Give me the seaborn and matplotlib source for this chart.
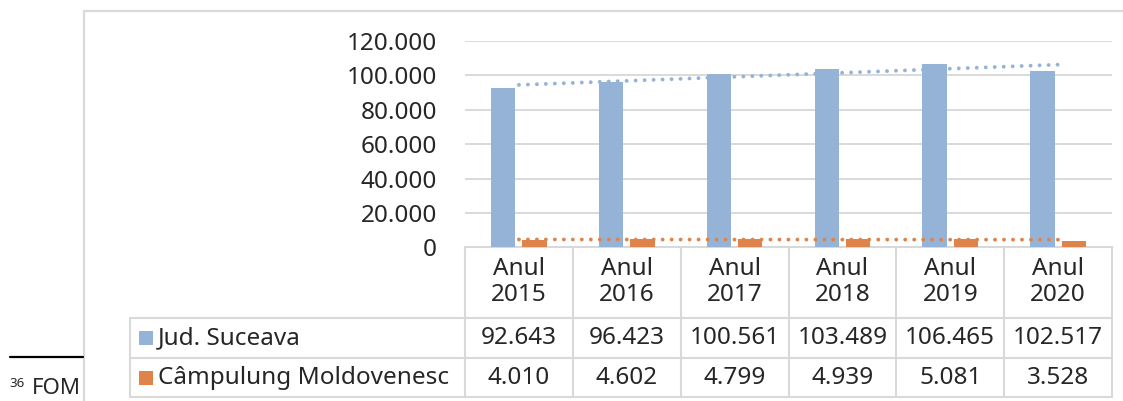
"""
Grafic: Jud. Suceava vs Câmpulung Moldovenesc (2015-2020)
Bare grupate + linii de tendinta + tabel de date sub axa.
"""

import numpy as np
import pandas as pd
import seaborn as sns
import matplotlib.pyplot as plt
from matplotlib.lines import Line2D
from matplotlib.patches import Rectangle
from matplotlib.transforms import blended_transform_factory

# -------------------------------
# Data
# -------------------------------
years = ["2015", "2016", "2017", "2018", "2019", "2020"]
series_names = ["Jud. Suceava", "Câmpulung Moldovenesc"]
suceava = [92643, 96423, 100561, 103489, 106465, 102517]
campulung = [4010, 4602, 4799, 4939, 5081, 3528]
y_ticks = [0, 20000, 40000, 60000, 80000, 100000, 120000]

colors = ["#95B3D7", "#E0834A"]
grid_col = "#D9D9D9"
FONT = 17.5

W, H = 1123, 401


def fx(px):
    return px / W


def fy(py):
    return 1 - py / H


def fmt(v):
    return f"{v:,}".replace(",", ".")


def main():
    sns.set_style("white")
    plt.rcParams["font.family"] = ["Noto Sans", "DejaVu Sans"]

    df = pd.DataFrame({
        "an": years * 2,
        "serie": [series_names[0]] * 6 + [series_names[1]] * 6,
        "val": suceava + campulung,
    })

    fig = plt.figure(figsize=(W / 100, H / 100), dpi=100)

    # chart area frame
    fig.add_artist(Line2D([fx(84), fx(84), fx(W + 5)], [fy(H + 5), fy(11), fy(11)],
                          color=grid_col, lw=1.6))

    # footnote on the page behind the chart
    fig.add_artist(Line2D([fx(10), fx(83)], [fy(356.5), fy(356.5)], color="black", lw=1.6))
    fig.text(fx(9), fy(387), "36", fontsize=9.5, va="baseline")
    fig.text(fx(32), fy(394), "FOM", fontsize=16, va="baseline")

    ax = fig.add_axes([fx(465), fy(247.3), fx(1112 - 465), (247.3 - 41) / H])

    sns.barplot(data=df, x="an", y="val", hue="serie", palette=colors,
                width=0.58, gap=0.22, saturation=1, linewidth=0,
                legend=False, ax=ax, zorder=3)

    # linear trendlines (dotted) for each series
    xs = np.arange(len(years))
    for vals, c in zip([suceava, campulung], colors):
        k, b = np.polyfit(xs, vals, 1)
        ax.plot(xs, k * xs + b, color=c, lw=2.8, linestyle=(0, (0.01, 2.3)),
                dash_capstyle="round", zorder=4)

    ax.set_xlim(-0.5, len(years) - 0.5)
    ax.set_ylim(0, 120000)
    ax.set_yticks(y_ticks)
    ax.set_yticklabels([fmt(v) for v in y_ticks], fontsize=FONT)
    ax.tick_params(axis="y", length=0, pad=20)
    ax.set_xticks([])
    ax.set_xlabel("")
    ax.set_ylabel("")
    ax.grid(axis="y", color=grid_col, lw=1.4, zorder=0)
    ax.set_axisbelow(True)
    for s in ax.spines.values():
        s.set_visible(False)

    # -------------------------------
    # Data table under the axis
    # -------------------------------
    tr = blended_transform_factory(ax.transData, fig.transFigure)
    x0, x1 = -0.5, len(years) - 0.5
    y_top, y_r1, y_r2, y_bot = 247.3, 318, 358, 397
    lw_t = 1.5

    # horizontal lines
    ax.plot([x0, x1], [fy(y_top)] * 2, transform=tr, color=grid_col, lw=lw_t, clip_on=False)
    for yy in (y_r1, y_r2, y_bot):
        fig.add_artist(Line2D([fx(130), ax.transData.transform((x1, 0))[0] / W],
                              [fy(yy)] * 2, color=grid_col, lw=lw_t))
    # vertical lines
    for i in range(len(years) + 1):
        ax.plot([x0 + i] * 2, [fy(y_top), fy(y_bot)], transform=tr,
                color=grid_col, lw=lw_t, clip_on=False)
    fig.add_artist(Line2D([fx(130)] * 2, [fy(y_r1), fy(y_bot)], color=grid_col, lw=lw_t))

    # header cells
    for i, yr in enumerate(years):
        ax.text(i, fy(282), f"Anul\n{yr}", transform=tr, ha="center", va="center",
                fontsize=FONT, linespacing=1.1)

    # series rows
    row_mid = [338, 377.5]
    for vals, name, c, ym in zip([suceava, campulung], series_names, colors, row_mid):
        fig.add_artist(Rectangle((fx(139), fy(ym + 7)), fx(14), 14 / H, color=c, lw=0))
        fig.text(fx(158), fy(ym), name, fontsize=FONT, va="center", ha="left")
        for i, v in enumerate(vals):
            ax.text(i, fy(ym), fmt(v), transform=tr, ha="center", va="center", fontsize=FONT)

    fig.savefig("out.png", dpi=100)


if __name__ == "__main__":
    main()
